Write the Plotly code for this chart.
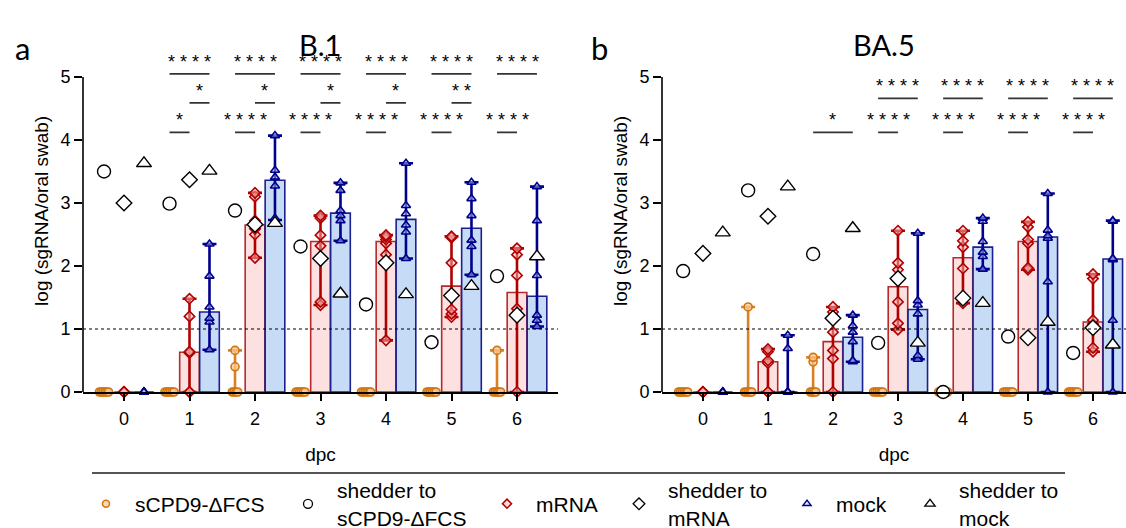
import plotly.graph_objects as go

# ---------------- data ----------------
days = [0, 1, 2, 3, 4, 5, 6]
tick_labels = ["0", "1", "2", "3", "4", "5", "6"]

# B.1 panel: individual animals per day (log sgRNA/oral swab)
b1_scpd9_pts = [[0, 0, 0, 0, 0, 0], [0, 0, 0, 0, 0, 0], [0, 0, 0, 0, 0.40, 0.66],
                [0, 0, 0, 0, 0, 0], [0, 0, 0, 0, 0, 0], [0, 0, 0, 0, 0, 0],
                [0, 0, 0, 0, 0, 0.66]]
b1_scpd9_bar = [0, 0, 0, 0, 0, 0, 0]
b1_mrna_pts = [[0, 0, 0, 0, 0, 0], [0, 0, 0.62, 0.64, 1.20, 1.48],
               [2.13, 2.50, 2.59, 2.72, 3.10, 3.16], [1.38, 1.43, 2.32, 2.49, 2.76, 2.80],
               [0.82, 2.18, 2.36, 2.42, 2.46, 2.49], [1.19, 1.24, 1.31, 2.05, 2.45, 2.47],
               [0, 1.25, 1.32, 1.85, 2.18, 2.28]]
b1_mrna_bar = [0, 0.63, 2.65, 2.39, 2.39, 1.68, 1.58]
b1_mock_pts = [[0, 0, 0, 0, 0, 0], [0.67, 1.11, 1.17, 1.35, 1.84, 2.35],
               [2.73, 2.76, 3.27, 3.41, 3.52, 4.07], [2.40, 2.72, 2.80, 2.88, 3.20, 3.32],
               [2.12, 2.54, 2.65, 2.83, 2.96, 3.63], [1.86, 2.31, 2.41, 2.80, 3.07, 3.33],
               [1.04, 1.14, 1.22, 1.85, 2.72, 3.26]]
b1_mock_bar = [0, 1.27, 3.36, 2.84, 2.74, 2.60, 1.52]
b1_shed_scpd9 = [3.50, 2.99, 2.88, 2.31, 1.39, 0.79, 1.84]
b1_shed_mrna = [3.00, 3.37, 2.66, 2.12, 2.05, 1.53, 1.22]
b1_shed_mock = [3.63, 3.51, 2.68, 1.56, 1.55, 1.68, 2.15]

# BA.5 panel
ba5_scpd9_pts = [[0, 0, 0, 0, 0, 0], [0, 0, 0, 0, 0, 1.35], [0, 0, 0, 0, 0.48, 0.55],
                 [0, 0, 0, 0, 0, 0], [0, 0, 0, 0, 0, 0], [0, 0, 0, 0, 0, 0],
                 [0, 0, 0, 0, 0, 0]]
ba5_scpd9_bar = [0, 0, 0, 0, 0, 0, 0]
ba5_mrna_pts = [[0, 0, 0, 0, 0, 0], [0, 0, 0.46, 0.50, 0.64, 0.68],
                [0, 0.53, 0.66, 0.95, 1.27, 1.35], [0.99, 1.09, 1.43, 1.94, 2.05, 2.56],
                [1.41, 1.48, 1.96, 2.30, 2.40, 2.56], [1.94, 1.97, 2.36, 2.42, 2.62, 2.70],
                [0.64, 0.70, 1.08, 1.14, 1.80, 1.87]]
ba5_mrna_bar = [0, 0.48, 0.80, 1.67, 2.13, 2.39, 1.11]
ba5_mock_pts = [[0, 0, 0, 0, 0, 0], [0, 0, 0, 0, 0.69, 0.90],
                [0.48, 0.50, 0.80, 0.95, 1.05, 1.22], [0.52, 0.58, 1.24, 1.38, 1.45, 2.52],
                [1.95, 2.15, 2.22, 2.39, 2.71, 2.76], [0, 1.75, 2.44, 2.48, 2.57, 3.15],
                [0, 1.14, 2.10, 2.12, 2.71, 2.72]]
ba5_mock_bar = [0, 0, 0.87, 1.31, 2.30, 2.46, 2.11]
ba5_shed_scpd9 = [1.92, 3.20, 2.19, 0.78, 0.00, 0.88, 0.62]
ba5_shed_mrna = [2.20, 2.79, 1.17, 1.80, 1.49, 0.86, 1.02]
ba5_shed_mock = [2.53, 3.26, 2.60, 0.78, 1.41, 1.11, 0.75]

# significance: (day, group A, group B, stars, tier)
b1_sig = [(1, "scpd9", "mock", "****", 2), (1, "mrna", "mock", "*", 1), (1, "scpd9", "mrna", "*", 0),
          (2, "scpd9", "mock", "****", 2), (2, "mrna", "mock", "*", 1), (2, "scpd9", "mrna", "****", 0),
          (3, "scpd9", "mock", "****", 2), (3, "mrna", "mock", "*", 1), (3, "scpd9", "mrna", "****", 0),
          (4, "scpd9", "mock", "****", 2), (4, "mrna", "mock", "*", 1), (4, "scpd9", "mrna", "****", 0),
          (5, "scpd9", "mock", "****", 2), (5, "mrna", "mock", "**", 1), (5, "scpd9", "mrna", "****", 0),
          (6, "scpd9", "mock", "****", 2), (6, "scpd9", "mrna", "****", 0)]
ba5_sig = [(2, "scpd9", "mock", "*", 0),
           (3, "scpd9", "mock", "****", 1), (3, "scpd9", "mrna", "****", 0),
           (4, "scpd9", "mock", "****", 1), (4, "scpd9", "mrna", "****", 0),
           (5, "scpd9", "mock", "****", 1), (5, "scpd9", "mrna", "****", 0),
           (6, "scpd9", "mock", "****", 1), (6, "scpd9", "mrna", "****", 0)]

legend_names = ["sCPD9-ΔFCS", "shedder to<br>sCPD9-ΔFCS", "mRNA", "shedder to<br>mRNA",
                "mock", "shedder to<br>mock"]

# ---------------- style / layout ----------------
W, H = 1126, 528


def px(x):  # window pixel -> paper x
    return x / W


def py(y):  # window pixel -> paper y
    return (H - y) / H


OFF = {"scpd9": -0.305, "mrna": 0.0, "mock": 0.305}
BARW = 0.3
STY = {
    "scpd9": dict(sym="circle", line="#d2740f", fill="rgba(250,200,150,0.75)",
                  bar="rgba(250,215,180,1)", edge="#d2740f", err="#d98022", spread=0.028),
    "mrna": dict(sym="diamond", line="#b00000", fill="rgba(255,185,185,0.5)",
                 bar="#fde0e0", edge="#b52a2a", err="#b00000", spread=0.0),
    "mock": dict(sym="triangle-up", line="#00008b", fill="rgba(180,205,250,0.5)",
                 bar="#c6dbf6", edge="#1b1f8f", err="#00008b", spread=0.0),
}
SHED_SYM = {"scpd9": "circle", "mrna": "diamond", "mock": "triangle-up"}
SHED_SIZE = {"scpd9": 13, "mrna": 12, "mock": 13}
TIERS = {"x": [4.12, 4.59, 5.05], "x2": [4.12, 4.66]}
FONT = "Liberation Sans, Arial, sans-serif"
TFONT = "Lato, Carlito, Calibri, sans-serif"


def spread_offsets(vals, step):
    counts = {}
    for v in vals:
        counts[v] = counts.get(v, 0) + 1
    seen = {}
    out = []
    for v in vals:
        n = counts[v]
        i = seen.get(v, 0)
        seen[v] = i + 1
        out.append((i - (n - 1) / 2) * step)
    return out


fig = go.Figure()

panels = [
    ("x", "y", {"scpd9": (b1_scpd9_pts, b1_scpd9_bar), "mrna": (b1_mrna_pts, b1_mrna_bar),
                "mock": (b1_mock_pts, b1_mock_bar)},
     {"scpd9": b1_shed_scpd9, "mrna": b1_shed_mrna, "mock": b1_shed_mock}, b1_sig),
    ("x2", "y2", {"scpd9": (ba5_scpd9_pts, ba5_scpd9_bar), "mrna": (ba5_mrna_pts, ba5_mrna_bar),
                  "mock": (ba5_mock_pts, ba5_mock_bar)},
     {"scpd9": ba5_shed_scpd9, "mrna": ba5_shed_mrna, "mock": ba5_shed_mock}, ba5_sig),
]

for xa, ya, groups, sheds, sig in panels:
    # bars (median)
    for g in ["scpd9", "mrna", "mock"]:
        pts, bar = groups[g]
        s = STY[g]
        if max(bar) > 0:
            fig.add_trace(go.Bar(x=[d + OFF[g] for d in days], y=bar, width=BARW,
                                 marker=dict(color=s["bar"], line=dict(color=s["edge"], width=1.6)),
                                 showlegend=False, hoverinfo="skip", xaxis=xa, yaxis=ya))
    # range error bars
    for g in ["scpd9", "mrna", "mock"]:
        pts, bar = groups[g]
        s = STY[g]
        ys, up, dn = [], [], []
        for p, b in zip(pts, bar):
            if max(p) == min(p):
                ys.append(None); up.append(0); dn.append(0)
            else:
                ys.append(b); up.append(max(p) - b); dn.append(b - min(p))
        fig.add_trace(go.Scatter(x=[d + OFF[g] for d in days], y=ys, mode="markers",
                                 marker=dict(size=2, opacity=0), cliponaxis=False,
                                 error_y=dict(type="data", symmetric=False, array=up, arrayminus=dn,
                                              color=s["err"], thickness=2.6, width=7),
                                 showlegend=False, hoverinfo="skip", xaxis=xa, yaxis=ya))
    # individual points
    for g in ["scpd9", "mrna", "mock"]:
        pts, bar = groups[g]
        s = STY[g]
        xs, ys = [], []
        for d, p in zip(days, pts):
            offs = spread_offsets(p, s["spread"])
            for v, o in zip(p, offs):
                xs.append(d + OFF[g] + o)
                ys.append(v)
        fig.add_trace(go.Scatter(x=xs, y=ys, mode="markers", cliponaxis=False,
                                 marker=dict(symbol=s["sym"], size=8, color=s["fill"],
                                             line=dict(color=s["line"], width=1.6)),
                                 showlegend=False, xaxis=xa, yaxis=ya))
    # shedders
    for g in ["scpd9", "mrna", "mock"]:
        fig.add_trace(go.Scatter(x=[d + OFF[g] for d in days], y=sheds[g], mode="markers",
                                 cliponaxis=False,
                                 marker=dict(symbol=SHED_SYM[g], size=SHED_SIZE[g], color="white",
                                             line=dict(color="black", width=1.4)),
                                 showlegend=False, xaxis=xa, yaxis=ya))
    # significance brackets
    for d, a, b, stars, tier in sig:
        yl = TIERS[xa][tier]
        x0, x1 = d + OFF[a], d + OFF[b]
        fig.add_shape(type="line", xref=xa, yref=ya, x0=x0, x1=x1, y0=yl, y1=yl,
                      line=dict(color="#333333", width=1.8))
        fig.add_annotation(xref=xa, yref=ya, x=(x0 + x1) / 2, y=yl, yanchor="bottom", xanchor="center",
                           text=" ".join(list(stars)), showarrow=False,
                           font=dict(family=FONT, size=18, color="black"))
    # y axis line (0..5 only) and LOD line
    fig.add_shape(type="line", xref=xa + " domain", yref=ya, x0=0, x1=0, y0=0, y1=5,
                  line=dict(color="black", width=1.6))
    fig.add_shape(type="line", xref=xa + " domain", yref=ya, x0=0, x1=1, y0=1, y1=1,
                  line=dict(color="black", width=1.1, dash="dot"))

# legend entries (one small legend per entry so each sits where the reference puts it)
leg = [("scpd9", False), ("scpd9", True), ("mrna", False), ("mrna", True), ("mock", False), ("mock", True)]
leg_text_x = [135, 337, 536, 668, 836, 959]
ITEMW = 48
legend_layouts = {}
for i, (name, (g, shed)) in enumerate(zip(legend_names, leg)):
    if shed:
        mk = dict(symbol=SHED_SYM[g], size=9, color="white", line=dict(color="black", width=1.3))
    else:
        s = STY[g]
        mk = dict(symbol=s["sym"], size=7, color=s["fill"], line=dict(color=s["line"], width=1.5))
    lname = "legend" if i == 0 else "legend%d" % (i + 1)
    fig.add_trace(go.Scatter(x=[None], y=[None], mode="markers", marker=mk, name=name,
                             showlegend=True, legend=lname, xaxis="x", yaxis="y"))
    legend_layouts[lname] = dict(orientation="h", x=px(leg_text_x[i] - ITEMW - 10), xanchor="left",
                                 y=py(504), yanchor="middle", itemwidth=ITEMW, valign="middle",
                                 font=dict(family=FONT, size=21, color="black"),
                                 bgcolor="rgba(0,0,0,0)")

ydom = [py(392), py(392 - 5.75 * 63)]
axis_common = dict(showgrid=False, zeroline=False, ticks="outside", tickcolor="black", automargin=False,
                   tickwidth=1.5, tickfont=dict(family=FONT, size=18, color="black"))

fig.update_layout(
    width=W, height=H, margin=dict(l=0, r=0, t=0, b=0, autoexpand=False),
    paper_bgcolor="white", plot_bgcolor="white", barmode="overlay",
    font=dict(family=FONT, color="black"),
    xaxis=dict(domain=[px(83), px(558)], range=[-0.626, 6.626], tickvals=days, ticktext=tick_labels,
               showline=True, linecolor="black", linewidth=1.6, ticklen=7, ticklabelstandoff=3, anchor="y",
               title=dict(text="dpc", standoff=19, font=dict(family=FONT, size=19)), **axis_common),
    yaxis=dict(domain=ydom, range=[0, 5.75], tickvals=[0, 1, 2, 3, 4, 5], showline=False, ticklen=8,
               anchor="x", title=dict(text="log (sgRNA/oral swab)", standoff=6,
                                      font=dict(family=FONT, size=19)), **axis_common),
    xaxis2=dict(domain=[px(662), 1.0], range=[-0.63, 6.508], tickvals=days, ticktext=tick_labels,
                showline=True, linecolor="black", linewidth=1.6, ticklen=7, ticklabelstandoff=3, anchor="y2",
                title=dict(text="dpc", standoff=19, font=dict(family=FONT, size=19)), **axis_common),
    yaxis2=dict(domain=ydom, range=[0, 5.75], tickvals=[0, 1, 2, 3, 4, 5], showline=False, ticklen=8,
                anchor="x2", title=dict(text="log (sgRNA/oral swab)", standoff=6,
                                        font=dict(family=FONT, size=19)), **axis_common),
    showlegend=True,
    **legend_layouts,
)

# panel titles and letters
for txt, x, y, sz in [("B.1", 320, 44, 29), ("BA.5", 884, 44, 29), ("a", 22, 48, 31), ("b", 599, 48, 31)]:
    fig.add_annotation(xref="paper", yref="paper", x=px(x), y=py(y), text=txt, showarrow=False,
                       xanchor="center", yanchor="middle", font=dict(family=TFONT, size=sz, color="black"))
# legend separator line
fig.add_shape(type="line", xref="paper", yref="paper", x0=px(92), x1=px(1065),
              y0=py(473), y1=py(473), line=dict(color="#555555", width=2))

# place the figure flush with the window (no default page margin), no toolbar
fig.write_html("out.html", config={"displayModeBar": False},
               post_script="document.body.style.margin='0px';document.body.style.overflow='hidden';")
